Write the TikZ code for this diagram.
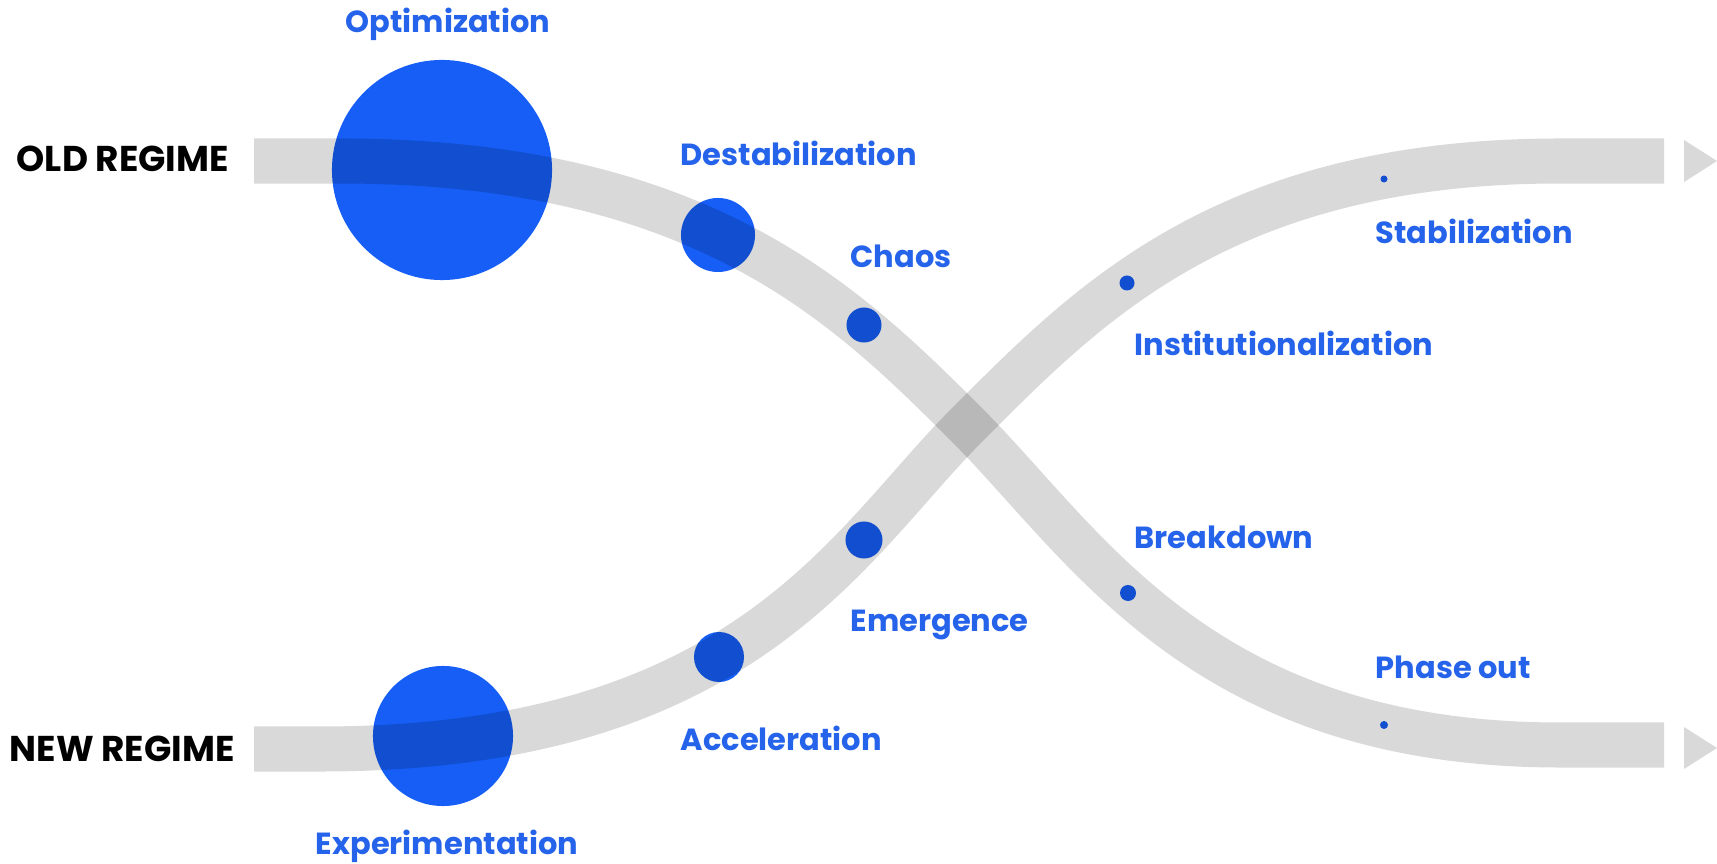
\documentclass[tikz,border=0pt]{standalone}
\usepackage{fontspec}
\setmainfont{Poppins}
\definecolor{dotblue}{RGB}{22,94,245}
\definecolor{txtblue}{RGB}{37,99,235}
\definecolor{bandgray}{RGB}{217,217,217}
\begin{document}
\begin{tikzpicture}[x=0.01cm,y=-0.01cm,
  stage/.style={circle,fill=dotblue,inner sep=0,minimum size=#1},
  lbl/.style={text=txtblue,font=\bfseries\fontsize{8.68}{10}\selectfont,inner sep=0,anchor=base west},
  regime/.style={text=black,font=\bfseries\fontsize{10.2}{12}\selectfont,inner sep=0,anchor=base west},
  bandline/.style={draw=bandgray,line width=0.45cm,line cap=butt,line join=round},
  tip/.style={fill=bandgray}]
\useasboundingbox (0,0) rectangle (1717,864);

% stage circles
\node[stage=2.2cm]  (opt)   at (442,170)  {};
\node[stage=0.74cm] (dest)  at (718,235)  {};
\node[stage=0.35cm] (chaos) at (864,325)  {};
\node[stage=0.37cm] (emer)  at (864,540)  {};
\node[stage=0.50cm] (acc)   at (719,657)  {};
\node[stage=1.40cm] (expm)  at (443,736)  {};
\node[stage=0.15cm] (inst)  at (1127,283) {};
\node[stage=0.16cm] (brk)   at (1128,593) {};
\node[stage=0.07cm] (stab)  at (1384,179) {};
\node[stage=0.08cm] (phase) at (1384,725) {};

% band ends and crossing
\coordinate (oL) at (254,161);
\coordinate (oR) at (1664,745);
\coordinate (nL) at (254,749);
\coordinate (nR) at (1664,161);
\coordinate (cross) at (967,425);

\begin{scope}[blend mode=multiply]
\draw[bandline] (oL) -- (340,161) .. controls (702,161) and (847,305) .. (cross)
  .. controls (1087,545) and (1201,745) .. (1560,745) -- (oR);
\draw[bandline] (nL) -- (320,749) .. controls (745,749) and (847,545) .. (cross)
  .. controls (1087,305) and (1224,161) .. (1560,161) -- (nR);
\end{scope}

% arrow tips
\fill[tip] (1684,140) -- (1717,161) -- (1684,182) -- cycle;
\fill[tip] (1684,727) -- (1717,748) -- (1684,769) -- cycle;

% labels
\node[regime] (lold) at (16,172) {OLD REGIME};
\node[regime] (lnew) at (9,762) {NEW REGIME};
\node[lbl,anchor=base] (lopt) at (448,33) {Optimization};
\node[lbl] (ldest) at (680,166) {Destabilization};
\node[lbl] (lchaos) at (850,268) {Chaos};
\node[lbl] (linst) at (1134,356) {Institutionalization};
\node[lbl] (lstab) at (1375,244) {Stabilization};
\node[lbl] (lbrk) at (1134,549) {Breakdown};
\node[lbl] (lemer) at (850,632) {Emergence};
\node[lbl] (lphase) at (1375,679) {Phase out};
\node[lbl] (lacc) at (680,751) {Acceleration};
\node[lbl,anchor=base] (lexp) at (447,855) {Experimentation};
\end{tikzpicture}
\end{document}
